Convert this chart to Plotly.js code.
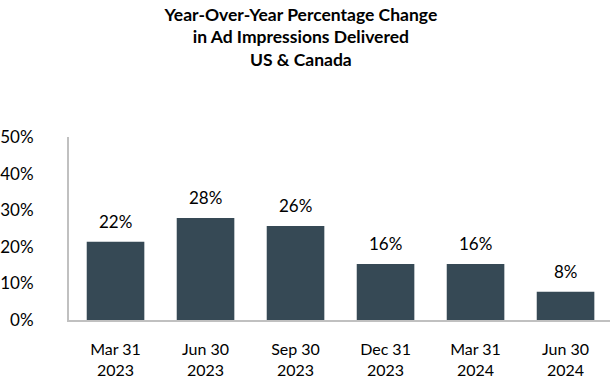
<!DOCTYPE html>
<html><head><meta charset="utf-8">
<script src="https://cdn.plot.ly/plotly-3.0.1.min.js"></script>
<style>html,body{margin:0;padding:0;background:#fff}</style>
</head><body><div id="chart" style="width:614px;height:384px"></div>
<script>
const categories = ["Mar 31<br>2023","Jun 30<br>2023","Sep 30<br>2023","Dec 31<br>2023","Mar 31<br>2024","Jun 30<br>2024"];
const values = [21.4, 27.9, 25.7, 15.3, 15.3, 7.7];
const labels = ["22%","28%","26%","16%","16%","8%"];
const yTicks = [0,10,20,30,40,50];
const yTickText = ["0%","10%","20%","30%","40%","50%"];

const font = "Lato, 'Open Sans', sans-serif";
const trace = {
  type: "bar", x: categories, y: values,
  marker: {color: "#364955"}, width: 0.64,
  hoverinfo: "skip"
};
const annotations = categories.map((c,i)=>({
  x: c, y: values[i], text: labels[i], showarrow: false,
  xref: "x", yref: "y", yanchor: "bottom", yshift: 8,
  font: {family: font, size: 17, color: "#000"}
}));
const layout = {
  width: 614, height: 384,
  margin: {l: 69, r: 4, t: 137, b: 64},
  paper_bgcolor: "#fff", plot_bgcolor: "#fff",
  showlegend: false,
  title: {text: "<b>Year-Over-Year Percentage Change<br>in Ad Impressions Delivered<br>US & Canada</b>",
    x: 0.49, xanchor: "center", y: 0.946, yanchor: "middle", yref: "container",
    font: {family: font, size: 17.5, color: "#000"}},
  xaxis: {type: "category", range: [-0.517, 5.494], showline: true, linecolor: "#c0c0c0", linewidth: 2,
    ticks: "", showgrid: false, zeroline: false, ticklabelstandoff: 14,
    tickfont: {family: font, size: 16, color: "#000"}},
  yaxis: {range: [0, 50], tickvals: yTicks, ticktext: yTickText, showline: true, linecolor: "#c0c0c0", linewidth: 2,
    ticks: "", showgrid: false, zeroline: false, ticklabelstandoff: 30,
    tickfont: {family: font, size: 17, color: "#000"}},
  annotations: annotations
};
Plotly.newPlot("chart", [trace], layout, {staticPlot: true, displayModeBar: false});
</script></body></html>
